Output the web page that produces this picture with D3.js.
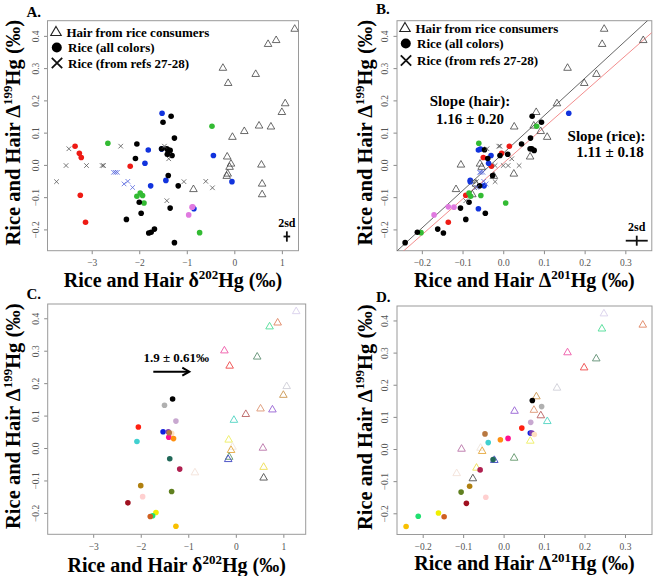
<!DOCTYPE html>
<html><head><meta charset="utf-8">
<script src="https://cdn.jsdelivr.net/npm/d3@7"></script>
<style>body{margin:0;background:#fff}</style></head>
<body><svg id="c" width="656" height="576" xmlns="http://www.w3.org/2000/svg"></svg>
<script>
// ---------- DATA ----------
// Hair from rice consumers
const hairD202 = [1.27, 0.71, 0.88, -0.24, 0.45, -0.13, 1.07, 1.00, 0.52, 0.77, 0.21, -0.04, -0.15, -0.07, -0.10, -0.14, -0.16, 0.57, 0.585, 0.585, -0.86];
const hairD199 = [0.421, 0.374, 0.386, 0.300, 0.281, 0.253, 0.190, 0.163, 0.121, 0.118, 0.104, 0.086, 0.025, 0.003, -0.007, -0.028, -0.035, 0.000, -0.059, -0.092, -0.076];
const hairD201 = [0.248, 0.243, 0.344, 0.158, 0.229, 0.199, 0.132, 0.081, 0.075, 0.027, 0.092, 0.108, 0.066, -0.057, -0.053, 0.026, -0.023, -0.104, -0.067, -0.076, -0.116];
const hairColor = ["#ddd5ee","#5ee0a0","#e39070","#f068b0","#6e9a80","#f05858","#d4d4dc","#d0a060","#e0a080","#a070d8","#c07070","#60d8c8","#f0f070","#f0e8e0","#e8b050","#70a078","#5058c8","#c080b0","#f0e060","#606060","#f5e5dd"];

// Rice (this study) - black in A/B, individually coloured in C/D
const riceD202 = [-1.33, -1.50, -1.26, -2.05, -1.53, -1.42, -1.35, -1.41, -1.31, -2.08, -1.40, -1.39, -1.18, -2.00, -1.35, -1.96, -2.27, -1.68, -1.75, -1.80, -1.26];
const riceD199 = [0.151, 0.132, 0.083, 0.065, 0.050, 0.050, 0.045, 0.033, 0.029, 0.020, 0.047, -0.033, -0.065, -0.116, -0.134, -0.150, -0.169, -0.199, -0.209, -0.211, -0.241];
const riceD201 = [0.071, 0.094, 0.067, 0.045, 0.066, 0.070, 0.076, 0.011, -0.008, -0.038, -0.046, -0.026, -0.058, -0.084, -0.105, -0.044, -0.092, -0.161, -0.211, -0.147, -0.241];
const riceColor = ["#000000","#b0b0b0","#c8a8d0","#ff2010","#1020e0","#8040b0","#ffe0c0","#ff1090","#ff9010","#40d0d0","#b87840","#206858","#b02050","#b08010","#608020","#ffd0d0","#a01020","#f0f000","#20e070","#d06020","#f8c000"];

// Rice (all colours) - other coloured rice, panels A/B only
const otherD202 = [-3.35, -3.26, -3.22, -2.19, -3.24, -3.13,
                   -2.66, -2.05, -1.98, -1.93, -1.90, -0.47, -0.73,
                   -1.52, -1.81, -1.53, -1.88, -1.44, -1.76, -0.44, -0.05, -0.85,
                   -0.875, -0.89, -0.96];
const otherD199 = [0.058, 0.036, 0.023, -0.004, -0.094, -0.178,
                   0.067, -0.097, -0.087, -0.095, -0.118, 0.120, -0.210,
                   0.160, 0.046, 0.049, 0.005, -0.048, -0.065, 0.029, -0.052, -0.136,
                   -0.130, -0.131, -0.155];
const otherD201 = [0.015, -0.004, -0.049, -0.029, -0.092, -0.135,
                   -0.060, -0.080, -0.084, -0.055, 0.006, 0.082, -0.202,
                   0.161, -0.061, -0.056, -0.036, -0.081, -0.047, -0.030, -0.081, -0.061,
                   -0.135, -0.121, -0.170];
const otherColor = ["red","red","red","red","red","red",
                    "green","green","green","green","green","green","green",
                    "blue","blue","blue","blue","blue","blue","blue","blue","blue",
                    "violet","violet","violet"];

// Rice from refs 27-28
const refD202 = [-3.48, -3.54, -3.74, -3.11, -2.78, -2.75, -2.39, -1.47, -1.38, -1.06, -1.42, -0.60, -0.46,
                 -2.54, -2.50, -2.46, -2.32, -2.24, -2.14];
const refD199 = [0.050, -0.002, -0.052, -0.002, -0.002, -0.002, 0.058, 0.058, 0.019, -0.052, -0.111, -0.051, -0.071,
                 -0.023, -0.023, -0.023, -0.059, -0.051, -0.070];
const refD201 = [-0.040, -0.020, -0.020, 0.000, 0.012, 0.039, -0.011, -0.008, 0.021, -0.066, -0.092, -0.075, -0.070,
                 -0.055, -0.050, -0.058, -0.042, -0.048, -0.065];
const refColor = ["gray","gray","gray","gray","gray","gray","gray","gray","gray","gray","gray","gray","gray",
                  "blue","blue","blue","blue","blue","blue"];

// Ticks
const xTicksD202 = [-3, -2, -1, 0, 1];
const xTicksD201 = [-0.2, -0.1, 0.0, 0.1, 0.2, 0.3];
const yTicks = [-0.2, -0.1, 0.0, 0.1, 0.2, 0.3, 0.4];

// Regression lines in B: [slope, intercept]
const hairFit = [1.16, 0.036];
const riceFit = [1.11, 0.005];
const slopeText = {hair: ["Slope (hair):", "1.16 \u00b1 0.20"], rice: ["Slope (rice):", "1.11 \u00b1 0.18"]};
const shiftText = "1.9 \u00b1 0.61\u2030";
// 2sd error bars: [d202 or D201, D199]
const sdA = {cx: 1.105, cy: -0.222, ex: 0.07, ey: 0.016};
const sdB = {cx: 0.328, cy: -0.235, ex: 0.027, ey: 0.0155};

const legendItems = ["Hair from rice consumers", "Rice (all colors)", "Rice (from refs 27-28)"];

// ---------- STYLE ----------
const FONT = "'Liberation Serif','Times New Roman',Times,serif";
const colMap = {red:"#ee1a14", green:"#33bb33", blue:"#1133dd", violet:"#e07ae0", gray:"#555555"};
const xBlue = "#5566dd";
const svg = d3.select('#c');

const layout = {
  A: {x0:47.5, x1:298.5, y0:20.7, y1:250.7, xd:[-3.93, 1.35], yd:[-0.266, 0.447]},
  B: {x0:397, x1:651.8, y0:20.7, y1:250.7, xd:[-0.261, 0.365], yd:[-0.266, 0.447]},
  C: {x0:47.7, x1:305.7, y0:304, y1:534.3, xd:[-3.957, 1.47], yd:[-0.266, 0.444]},
  D: {x0:397, x1:652, y0:306, y1:534.5, xd:[-0.2635, 0.3668], yd:[-0.266, 0.445]}
};

const fmtInt = d3.format("d");
const fmt1 = d3.format(".1f");

function makePanel(name, xTicks, xFmt) {
  const p = layout[name];
  const x = d3.scaleLinear().domain(p.xd).range([p.x0, p.x1]);
  const y = d3.scaleLinear().domain(p.yd).range([p.y1, p.y0]);
  const g = svg.append('g');
  const gx = g.append('g').attr('transform', `translate(0,${p.y1})`)
    .call(d3.axisBottom(x).tickValues(xTicks).tickFormat(xFmt).tickSize(3.5).tickPadding(5.5));
  const gy = g.append('g').attr('transform', `translate(${p.x0},0)`)
    .call(d3.axisLeft(y).tickValues(yTicks).tickFormat(fmt1).tickSize(3.5));
  [gx, gy].forEach(a => {
    a.select('.domain').remove();
    a.selectAll('line').attr('stroke', '#8a8a8a');
    a.selectAll('text').attr('font-family', FONT).attr('font-size', 9.5).attr('fill', '#555');
  });
  gy.selectAll('text').attr('x', 0).attr('dy', null).attr('text-anchor', 'middle')
    .attr('transform', 'translate(-9,0) rotate(-90)');
  g.append('rect').attr('x', p.x0).attr('y', p.y0).attr('width', p.x1 - p.x0).attr('height', p.y1 - p.y0)
    .attr('fill', 'none').attr('stroke', '#9a9a9a').attr('stroke-width', 1);
  const clipId = 'clip' + name;
  svg.append('clipPath').attr('id', clipId).append('rect')
    .attr('x', p.x0).attr('y', p.y0).attr('width', p.x1 - p.x0).attr('height', p.y1 - p.y0);
  const plot = svg.append('g').attr('clip-path', `url(#${clipId})`);
  return {x, y, plot, p};
}

function axisTitleX(p, sym, sup, baseline) {
  const t = svg.append('text').attr('font-family', FONT).attr('font-weight', 'bold').attr('font-size', 20)
    .attr('text-anchor', 'middle').attr('x', (p.x0 + p.x1) / 2).attr('y', baseline);
  t.append('tspan').text('Rice and Hair ' + sym);
  t.append('tspan').attr('font-size', 13).attr('dy', -8).text(sup);
  t.append('tspan').attr('dy', 8).text('Hg (\u2030)');
}
function axisTitleY(p, bx) {
  const t = svg.append('text').attr('font-family', FONT).attr('font-weight', 'bold').attr('font-size', 20.5)
    .attr('text-anchor', 'middle').attr('transform', `translate(${bx},${(p.y0 + p.y1) / 2 - 3}) rotate(-90)`);
  t.append('tspan').text('Rice and Hair \u0394');
  t.append('tspan').attr('font-size', 13).attr('dy', -8).text('199');
  t.append('tspan').attr('dy', 8).text('Hg (\u2030)');
}
function letter(txt, x, y) {
  svg.append('text').attr('font-family', FONT).attr('font-weight', 'bold').attr('font-size', 15)
    .attr('x', x).attr('y', y).text(txt);
}
const tri = d3.symbol().type(d3.symbolTriangle).size(25)();
const triBig = d3.symbol().type(d3.symbolTriangle).size(48)();
function xPath(h) { return `M${-h},${-h}L${h},${h}M${-h},${h}L${h},${-h}`; }

function drawHair(P, xs, colored) {
  P.plot.selectAll(null).data(d3.range(hairD199.length)).join('path')
    .attr('d', tri)
    .attr('transform', i => `translate(${P.x(xs[i])},${P.y(hairD199[i])})`)
    .attr('fill', 'none')
    .attr('stroke', i => colored ? hairColor[i] : '#444')
    .attr('stroke-width', colored ? 1 : 0.8);
}
function drawRice(P, xs, colored) {
  P.plot.selectAll(null).data(d3.range(riceD199.length)).join('circle')
    .attr('cx', i => P.x(xs[i])).attr('cy', i => P.y(riceD199[i])).attr('r', 2.8)
    .attr('fill', i => colored ? riceColor[i] : '#000');
}
function drawOther(P, xs) {
  P.plot.selectAll(null).data(d3.range(otherD199.length)).join('circle')
    .attr('cx', i => P.x(xs[i])).attr('cy', i => P.y(otherD199[i])).attr('r', 2.8)
    .attr('fill', i => colMap[otherColor[i]]);
}
function drawRefs(P, xs) {
  P.plot.selectAll(null).data(d3.range(refD199.length)).join('path')
    .attr('d', xPath(2.3))
    .attr('transform', i => `translate(${P.x(xs[i])},${P.y(refD199[i])})`)
    .attr('fill', 'none')
    .attr('stroke', i => refColor[i] === 'blue' ? xBlue : '#555')
    .attr('stroke-width', 0.8);
}
function legend(x0, ys) {
  svg.append('path').attr('d', triBig).attr('transform', `translate(${x0},${ys[0]})`)
    .attr('fill', 'none').attr('stroke', '#222').attr('stroke-width', 1.1);
  svg.append('circle').attr('cx', x0 + 0.8).attr('cy', ys[1]).attr('r', 5).attr('fill', '#000');
  svg.append('path').attr('d', xPath(5.2)).attr('transform', `translate(${x0 + 1},${ys[2]})`)
    .attr('fill', 'none').attr('stroke', '#111').attr('stroke-width', 1.8);
  legendItems.forEach((s, i) => {
    svg.append('text').attr('font-family', FONT).attr('font-weight', 'bold').attr('font-size', 13)
      .attr('x', x0 + 10.5 + (i ? 1.5 : 0)).attr('y', ys[i] + 4.5).text(s);
  });
}
function sdCross(P, sd) {
  const g = svg.append('g').attr('stroke', '#111').attr('stroke-width', 1.8);
  g.append('line').attr('x1', P.x(sd.cx - sd.ex)).attr('x2', P.x(sd.cx + sd.ex))
    .attr('y1', P.y(sd.cy)).attr('y2', P.y(sd.cy));
  g.append('line').attr('x1', P.x(sd.cx)).attr('x2', P.x(sd.cx))
    .attr('y1', P.y(sd.cy - sd.ey)).attr('y2', P.y(sd.cy + sd.ey));
  svg.append('text').attr('font-family', FONT).attr('font-weight', 'bold').attr('font-size', 12)
    .attr('text-anchor', 'middle').attr('x', P.x(sd.cx)).attr('y', P.y(sd.cy) - 9.5).text('2sd');
}
function boldText(s, x, y, size) {
  svg.append('text').attr('font-family', FONT).attr('font-weight', 'bold').attr('font-size', size)
    .attr('text-anchor', 'middle').attr('x', x).attr('y', y).text(s);
}

// ---------- PANEL A ----------
const A = makePanel('A', xTicksD202, fmtInt);
drawHair(A, hairD202, false);
drawOther(A, otherD202);
drawRice(A, riceD202, false);
drawRefs(A, refD202);
legend(56, [32.5, 47.5, 63]);
sdCross(A, sdA);
axisTitleX(A.p, '\u03b4', '202', 286.5);
axisTitleY(A.p, 20);
letter('A.', 26.5, 16.7);

// ---------- PANEL B ----------
const B = makePanel('B', xTicksD201, fmt1);
[[hairFit, '#555'], [riceFit, '#f08080']].forEach(([f, c]) => {
  const xd = B.x.domain();
  B.plot.append('line').attr('x1', B.x(xd[0])).attr('x2', B.x(xd[1]))
    .attr('y1', B.y(f[0] * xd[0] + f[1])).attr('y2', B.y(f[0] * xd[1] + f[1]))
    .attr('stroke', c).attr('stroke-width', 0.9);
});
drawHair(B, hairD201, false);
drawOther(B, otherD201);
drawRice(B, riceD201, false);
drawRefs(B, refD201);
legend(405, [28.5, 43.5, 60.5]);
sdCross(B, sdB);
boldText(slopeText.hair[0], 470, 106, 15);
boldText(slopeText.hair[1], 470, 123.5, 15);
boldText(slopeText.rice[0], 606.5, 140.5, 15);
boldText(slopeText.rice[1], 610, 157, 15);
axisTitleX(B.p, '\u0394', '201', 286.5);
axisTitleY(B.p, 372);
letter('B.', 376, 13.5);

// ---------- PANEL C ----------
const C = makePanel('C', xTicksD202, fmtInt);
drawHair(C, hairD202, true);
drawRice(C, riceD202, true);
boldText(shiftText, 176.3, 361.5, 13);
{
  const ay = 371.7, ax0 = 153.3, ax1 = 189.3;
  const g = svg.append('g').attr('stroke', '#000').attr('stroke-width', 2).attr('fill', 'none');
  g.append('line').attr('x1', ax0).attr('x2', ax1 - 1).attr('y1', ay).attr('y2', ay);
  g.append('path').attr('d', `M${ax1 - 7},${ay - 4}L${ax1},${ay}L${ax1 - 7},${ay + 4}`);
}
axisTitleX(C.p, '\u03b4', '202', 571.5);
axisTitleY(C.p, 20);
letter('C.', 26.5, 299);

// ---------- PANEL D ----------
const D = makePanel('D', xTicksD201, fmt1);
drawHair(D, hairD201, true);
drawRice(D, riceD201, true);
axisTitleX(D.p, '\u0394', '201', 570);
axisTitleY(D.p, 372);
letter('D.', 376, 301.5);
</script></body></html>
